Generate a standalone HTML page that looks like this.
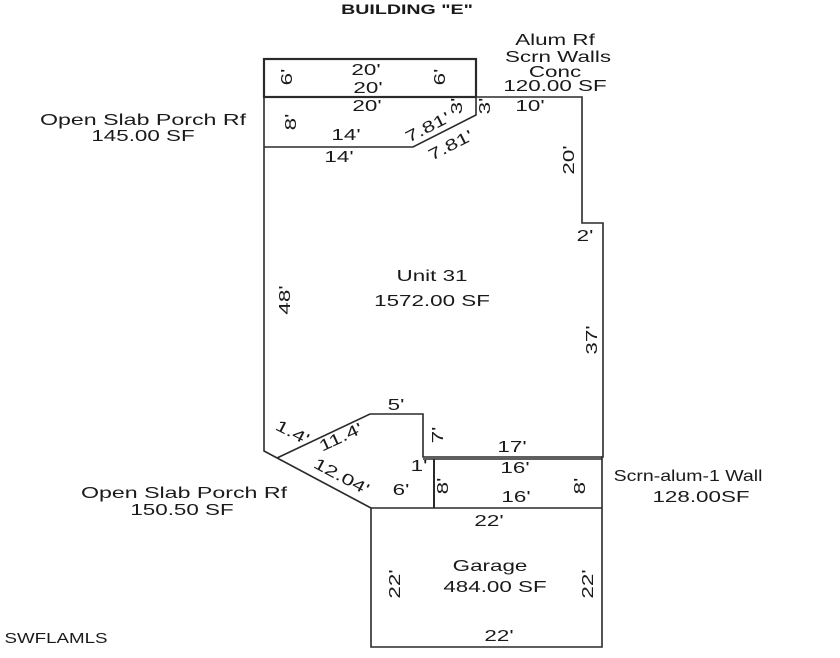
<!DOCTYPE html>
<html><head><meta charset="utf-8"><style>
html,body{margin:0;padding:0;background:#fff;}
svg{display:block;}
text{font-family:"Liberation Sans",Arial,sans-serif;fill:#1a1a1a;}
</style></head><body>
<svg width="840" height="658" viewBox="0 0 840 658" xmlns="http://www.w3.org/2000/svg">
<g fill="none" stroke="#2a2a2a" stroke-width="1.6">
 <rect x="264" y="59" width="212" height="38" stroke-width="2.2"/>
 <polyline points="264,97 264,451 371,508 371,647 602,647 602,457 603,457 603,223 582,223 582,97 476,97 476,115 413,147 264,147"/>
 <polyline points="277,458 370,414 423,414 423,457 602,457"/>
 <line x1="423" y1="459" x2="602" y2="459"/>
 <line x1="434" y1="459" x2="434" y2="508" stroke-width="2"/>
 <line x1="371" y1="508" x2="602" y2="508"/>
</g>
<g font-size="16" text-anchor="middle">
 <text transform="translate(407,14) scale(1.4,1)" font-size="14" font-weight="bold" fill="#333">BUILDING "E"</text>
 <text transform="translate(555,45) scale(1.4,1)">Alum Rf</text>
 <text transform="translate(558,62) scale(1.4,1)">Scrn Walls</text>
 <text transform="translate(555,77) scale(1.4,1)">Conc</text>
 <text transform="translate(555,91) scale(1.4,1)">120.00 SF</text>
 <text transform="translate(143,125) scale(1.45,1)">Open Slab Porch Rf</text>
 <text transform="translate(143,141) scale(1.4,1)">145.00 SF</text>
 <text transform="translate(366,75) scale(1.4,1)">20'</text>
 <text transform="translate(368,93) scale(1.4,1)">20'</text>
 <text transform="translate(367,111) scale(1.4,1)">20'</text>
 <text transform="translate(346,140) scale(1.4,1)">14'</text>
 <text transform="translate(339,162) scale(1.4,1)">14'</text>
 <text transform="translate(530,111) scale(1.4,1)">10'</text>
 <text transform="translate(432,281) scale(1.4,1)">Unit 31</text>
 <text transform="translate(432,306) scale(1.4,1)">1572.00 SF</text>
 <text transform="translate(585,241) scale(1.4,1)">2'</text>
 <text transform="translate(396,410) scale(1.4,1)">5'</text>
 <text transform="translate(512,452) scale(1.4,1)">17'</text>
 <text transform="translate(515,473) scale(1.4,1)">16'</text>
 <text transform="translate(516,502) scale(1.4,1)">16'</text>
 <text transform="translate(419,471) scale(1.4,1)">1'</text>
 <text transform="translate(401,495) scale(1.4,1)">6'</text>
 <text transform="translate(489,526) scale(1.4,1)">22'</text>
 <text transform="translate(490,571) scale(1.4,1)">Garage</text>
 <text transform="translate(495,592) scale(1.4,1)">484.00 SF</text>
 <text transform="translate(499,641) scale(1.4,1)">22'</text>
 <text transform="translate(184,498) scale(1.45,1)">Open Slab Porch Rf</text>
 <text transform="translate(182,515) scale(1.4,1)">150.50 SF</text>
 <text transform="translate(688,481) scale(1.22,1)">Scrn-alum-1 Wall</text>
 <text transform="translate(701,502) scale(1.4,1)">128.00SF</text>
 <text transform="translate(56,643) scale(1.25,1)" font-size="15" fill="#444">SWFLAMLS</text>
</g>
<g font-size="16" text-anchor="middle">
 <text transform="translate(292,77) rotate(-90) scale(1.4,1)">6'</text>
 <text transform="translate(445,77) rotate(-90) scale(1.4,1)">6'</text>
 <text transform="translate(296,122) rotate(-90) scale(1.4,1)">8'</text>
 <text transform="translate(462,106) rotate(-90) scale(1.4,1)">3'</text>
 <text transform="translate(490,106) rotate(-90) scale(1.4,1)">3'</text>
 <text transform="translate(574,160) rotate(-90) scale(1.4,1)">20'</text>
 <text transform="translate(290,300) rotate(-90) scale(1.4,1)">48'</text>
 <text transform="translate(597,340) rotate(-90) scale(1.4,1)">37'</text>
 <text transform="translate(443,435) rotate(-90) scale(1.4,1)">7'</text>
 <text transform="translate(448,486) rotate(-90) scale(1.4,1)">8'</text>
 <text transform="translate(585,486) rotate(-90) scale(1.4,1)">8'</text>
 <text transform="translate(400,584) rotate(-90) scale(1.4,1)">22'</text>
 <text transform="translate(593,584) rotate(-90) scale(1.4,1)">22'</text>
 <text transform="translate(430,132) rotate(-27) scale(1.4,1)">7.81'</text>
 <text transform="translate(453,150) rotate(-27) scale(1.4,1)">7.81'</text>
 <text transform="translate(290,437) rotate(27) scale(1.4,1)">1.4'</text>
 <text transform="translate(343,442) rotate(-25) scale(1.4,1)">11.4'</text>
 <text transform="translate(339,481) rotate(28) scale(1.4,1)">12.04'</text>
</g>
</svg>
</body></html>
